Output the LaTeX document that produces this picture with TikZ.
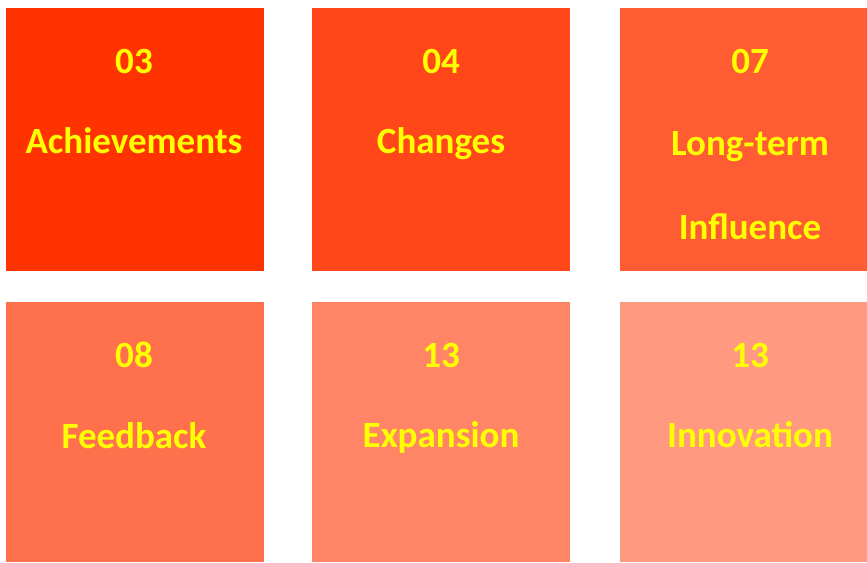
\documentclass[tikz,border=0pt]{standalone}
\usepackage{fontspec}
\setmainfont{Carlito}
\definecolor{cA}{RGB}{255,51,0}
\definecolor{cB}{RGB}{255,71,26}
\definecolor{cC}{RGB}{255,92,51}
\definecolor{cD}{RGB}{255,112,77}
\definecolor{cE}{RGB}{255,133,102}
\definecolor{cF}{RGB}{255,153,128}
\definecolor{txt}{RGB}{255,255,0}
\tikzset{
  tile/.style={draw=none, anchor=north west, inner sep=0pt, outer sep=0pt},
  lbl/.style={anchor=base, inner sep=0pt, text=txt, font=\fontsize{37}{41}\selectfont\bfseries}
}
\begin{document}
\begin{tikzpicture}[x=1pt,y=-1pt]
\useasboundingbox (0,0) rectangle (867,562);
\node[tile, fill=cA, minimum width=258pt, minimum height=263pt] (t1) at (6,8) {};
\node[tile, fill=cB, minimum width=258pt, minimum height=263pt] (t2) at (312,8) {};
\node[tile, fill=cC, minimum width=247pt, minimum height=263pt] (t3) at (620,8) {};
\node[tile, fill=cD, minimum width=258pt, minimum height=260pt] (t4) at (6,302) {};
\node[tile, fill=cE, minimum width=258pt, minimum height=260pt] (t5) at (312,302) {};
\node[tile, fill=cF, minimum width=247pt, minimum height=260pt] (t6) at (620,302) {};
\node[lbl] (n1) at (134,73) {03};
\node[lbl] (l1) at (134,153) {Achievements};
\node[lbl] (n2) at (441,73) {04};
\node[lbl] (l2) at (441,153) {Changes};
\node[lbl] (n3) at (750,73) {07};
\node[lbl] (l3a) at (750,155) {Long-term};
\node[lbl] (l3b) at (750,239) {Influence};
\node[lbl] (n4) at (134,367) {08};
\node[lbl] (l4) at (134,448) {Feedback};
\node[lbl] (n5) at (441,367) {13};
\node[lbl] (l5) at (441,447) {Expansion};
\node[lbl] (n6) at (750,367) {13};
\node[lbl] (l6) at (750,447) {Innovation};
\end{tikzpicture}
\end{document}
